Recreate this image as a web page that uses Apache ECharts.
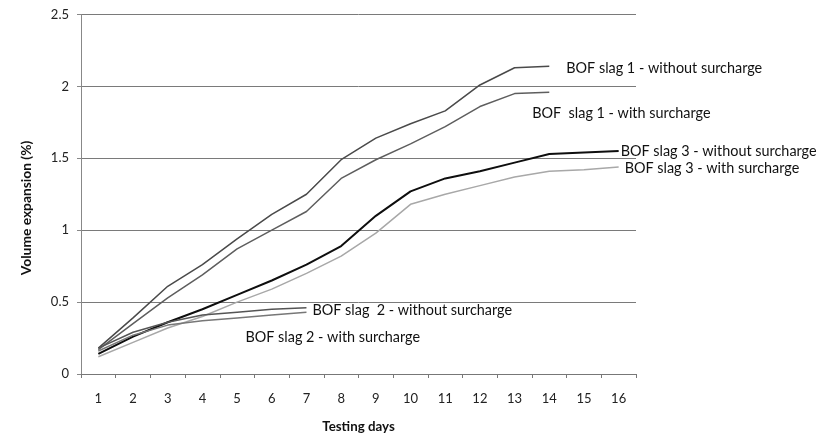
<!DOCTYPE html>
<html><head><meta charset="utf-8">
<script src="https://cdn.jsdelivr.net/npm/echarts@6/dist/echarts.min.js"></script>
<style>html,body{margin:0;padding:0;background:#fff}#c{width:821px;height:438px}</style>
</head><body><div id="c"></div>
<script>
const days = ['1','2','3','4','5','6','7','8','9','10','11','12','13','14','15','16'];
const yTicks = [0, 0.5, 1, 1.5, 2, 2.5];
const slag1Without = [0.18, 0.39, 0.61, 0.76, 0.94, 1.11, 1.25, 1.49, 1.64, 1.74, 1.83, 2.01, 2.13, 2.14];
const slag1With    = [0.17, 0.35, 0.53, 0.69, 0.87, 1.00, 1.13, 1.36, 1.49, 1.60, 1.72, 1.86, 1.95, 1.96];
const slag3Without = [0.14, 0.26, 0.36, 0.45, 0.55, 0.65, 0.76, 0.89, 1.10, 1.27, 1.36, 1.41, 1.47, 1.53, 1.54, 1.55];
const slag3With    = [0.12, 0.22, 0.32, 0.40, 0.50, 0.59, 0.70, 0.82, 0.98, 1.18, 1.25, 1.31, 1.37, 1.41, 1.42, 1.44];
const slag2Without = [0.18, 0.29, 0.36, 0.41, 0.43, 0.45, 0.46];
const slag2With    = [0.16, 0.27, 0.34, 0.37, 0.39, 0.41, 0.43];
const names = ['BOF slag 1 - without surcharge','BOF  slag 1 - with surcharge','BOF slag 3 - without surcharge','BOF slag 3 - with surcharge','BOF slag  2 - without surcharge','BOF slag 2 - with surcharge'];
const xTitle = 'Testing days';
const yTitle = 'Volume expansion (%)';

const FONT = 'Lato, "Open Sans", sans-serif';
function mk(name, data, color, width, offset) {
  return {
    name, type: 'line', data, symbol: 'none', smooth: false,
    lineStyle: { color, width }, silent: true,
    endLabel: { show: true, formatter: name, color: '#111', fontFamily: FONT, fontSize: 14.4, distance: 2, offset }
  };
}
const chart = echarts.init(document.getElementById('c'));
chart.setOption({
  animation: false,
  grid: { left: 81, right: 185, top: 14.5, bottom: 61, containLabel: false },
  graphic: [{
    type: 'text', x: 27, y: 208, rotation: Math.PI / 2,
    style: { text: yTitle, fontFamily: FONT, fontWeight: 'bold', fontSize: 13.8, fill: '#111', align: 'center', verticalAlign: 'middle' }
  }],
  xAxis: {
    type: 'category', data: days, boundaryGap: true,
    name: xTitle, nameLocation: 'middle', nameGap: 46,
    nameTextStyle: { fontFamily: FONT, fontWeight: 'bold', fontSize: 13.3, color: '#111' },
    axisLine: { lineStyle: { color: '#777', width: 1 } },
    axisTick: { show: true, length: 4, inside: false, lineStyle: { color: '#777' } },
    axisLabel: { fontFamily: FONT, fontSize: 13, color: '#222', margin: 18 },
    splitLine: { show: false }
  },
  yAxis: {
    type: 'value', min: yTicks[0], max: yTicks[yTicks.length-1], interval: 0.5,
    axisLine: { show: true, lineStyle: { color: '#888', width: 1 } },
    axisTick: { show: true, length: 4, lineStyle: { color: '#888' } },
    axisLabel: { fontFamily: FONT, fontSize: 13, color: '#222', margin: 12 },
    splitLine: { show: true, lineStyle: { color: '#7a7a7a', width: 1 } }
  },
  series: [
    mk(names[0], slag1Without, '#4a4a4a', 1.5, [15, 2]),
    mk(names[1], slag1With, '#5e5e5e', 1.5, [-19, 21]),
    mk(names[2], slag3Without, '#0e0e0e', 2, [0, 0]),
    mk(names[3], slag3With, '#a8a8a8', 1.5, [4, 1]),
    mk(names[4], slag2Without, '#555', 1.5, [4, 3]),
    mk(names[5], slag2With, '#777', 1.5, [-63, 25])
  ]
});
</script></body></html>
